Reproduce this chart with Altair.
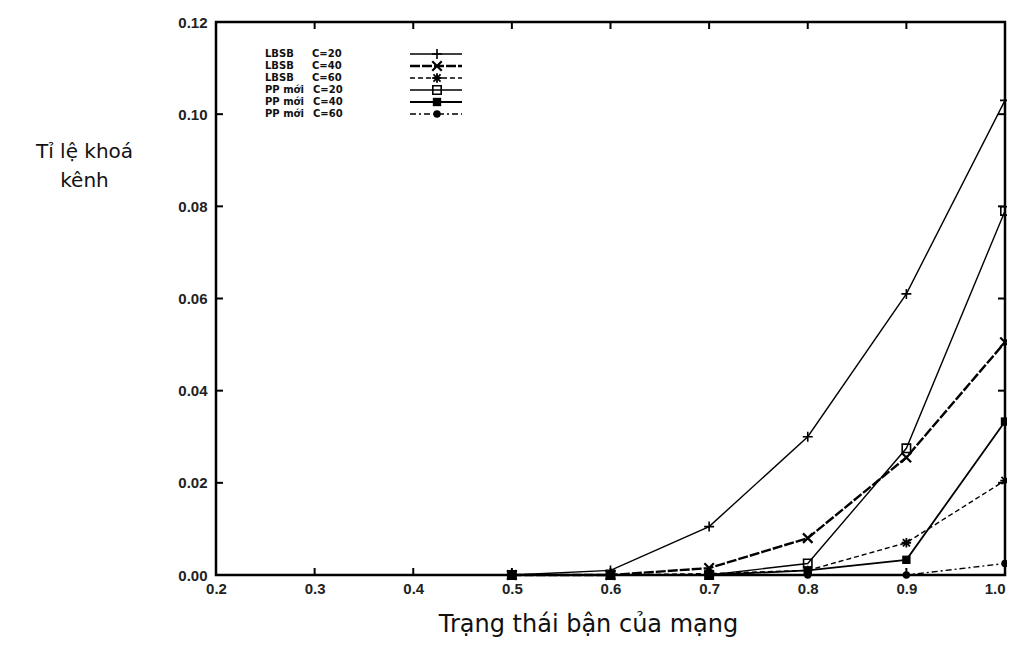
import altair as alt
import pandas as pd

# ---- data ----
x_vals = [0.5, 0.6, 0.7, 0.8, 0.9, 1.0]
lbsb_c20 = [0.0, 0.0010, 0.0105, 0.0300, 0.0610, 0.1030]
lbsb_c40 = [0.0, 0.0, 0.0015, 0.0080, 0.0255, 0.0505]
lbsb_c60 = [0.0, 0.0, 0.0003, 0.0010, 0.0070, 0.0205]
pp_c20 = [0.0, 0.0, 0.0, 0.0025, 0.0275, 0.0790]
pp_c40 = [0.0, 0.0, 0.0, 0.0010, 0.0033, 0.0333]
pp_c60 = [0.0, 0.0, 0.0, 0.0, 0.0, 0.0025]

method_names = ["LBSB", "LBSB", "LBSB", "PP mới", "PP mới", "PP mới"]
c_labels = ["C=20", "C=40", "C=60", "C=20", "C=40", "C=60"]
x_ticks = [0.2, 0.3, 0.4, 0.5, 0.6, 0.7, 0.8, 0.9, 1.0]
y_ticks = [0.0, 0.02, 0.04, 0.06, 0.08, 0.10, 0.12]
x_title = "Trạng thái bận của mạng"
y_title = ["Tỉ lệ khoá", "kênh"]

W, H = 789, 553

PLUS = "M-1,0L1,0M0,-1L0,1"
CROSS = "M-1,-1L1,1M-1,1L1,-1"
STAR = "M-1,0L1,0M0,-1L0,1M-0.75,-0.75L0.75,0.75M-0.75,0.75L0.75,-0.75"

values = [lbsb_c20, lbsb_c40, lbsb_c60, pp_c20, pp_c40, pp_c60]
line_styles = [
    dict(strokeWidth=1.4),
    dict(strokeWidth=2.4, strokeDash=[10, 2]),
    dict(strokeWidth=1.4, strokeDash=[5, 3]),
    dict(strokeWidth=1.4),
    dict(strokeWidth=1.8),
    dict(strokeWidth=1.4, strokeDash=[6, 3, 2, 3]),
]
point_styles = [
    dict(shape=PLUS, filled=False, size=100, strokeWidth=1.6),
    dict(shape=CROSS, filled=False, size=90, strokeWidth=2.2),
    dict(shape=STAR, filled=False, size=90, strokeWidth=1.8),
    dict(shape="square", filled=False, size=70, strokeWidth=1.6),
    dict(shape="square", filled=True, size=70, strokeWidth=1),
    dict(shape="circle", filled=True, size=55, strokeWidth=1),
]

xs = alt.Scale(domain=[0.2, 1.0], nice=False, zero=False)
ys = alt.Scale(domain=[0.0, 0.12], nice=False)
x_axis = alt.Axis(values=x_ticks, format=".1f", tickSize=0, domain=False, grid=False,
                  labelFont="Liberation Sans", labelFontSize=15, labelFontWeight="bold",
                  labelColor="#222", labelPadding=6,
                  labelAlign={"condition": {"test": "datum.value >= 0.99", "value": "right"},
                              "value": "center"},
                  title=x_title, titleFont="DejaVu Sans", titleFontSize=24, titleFontWeight="normal",
                  titleColor="#111", titleX=372, titleY=56, titleAlign="center",
                  titleBaseline="alphabetic", titleAnchor="start")
y_axis = alt.Axis(values=y_ticks, format=".2f", tickSize=0, domain=False, grid=False,
                  labelFont="Liberation Sans", labelFontSize=15, labelFontWeight="bold",
                  labelColor="#222", labelPadding=9,
                  title=y_title, titleFont="DejaVu Sans", titleFontSize=20, titleFontWeight="normal",
                  titleColor="#111", titleAngle=0, titleX=-132, titleY=135,
                  titleAlign="center", titleBaseline="alphabetic", titleLineHeight=29,
                  titleAnchor="start")
X = alt.X("x:Q", scale=xs, axis=x_axis)
Y = alt.Y("y:Q", scale=ys, axis=y_axis)

layers = []
for vals, ls, ps in zip(values, line_styles, point_styles):
    df = pd.DataFrame({"x": x_vals, "y": vals})
    layers.append(alt.Chart(df).mark_line(color="black", **ls).encode(x=X, y=Y))
    layers.append(alt.Chart(df).mark_point(color="black", opacity=1, **ps).encode(x=X, y=Y))

# inward ticks on all four sides
xt = pd.DataFrame({"x": x_ticks[1:-1]})
yt = pd.DataFrame({"y": y_ticks[1:-1]})
layers.append(alt.Chart(xt).mark_rule(color="black", strokeWidth=2).encode(
    x=X, y=alt.value(H), y2=alt.value(H - 7)))
layers.append(alt.Chart(xt).mark_rule(color="black", strokeWidth=2).encode(
    x=X, y=alt.value(0), y2=alt.value(7)))
layers.append(alt.Chart(yt).mark_rule(color="black", strokeWidth=2).encode(
    y=Y, x=alt.value(0), x2=alt.value(7)))
layers.append(alt.Chart(yt).mark_rule(color="black", strokeWidth=2).encode(
    y=Y, x=alt.value(W), x2=alt.value(W - 7)))

# legend inside the plot, label left, sample right
for i, (name, cl, ls, ps) in enumerate(zip(method_names, c_labels, line_styles, point_styles)):
    ry = 32 + 12 * i
    ldf = pd.DataFrame({"name": [name], "c": [cl]})
    layers.append(alt.Chart(ldf).mark_text(align="left", baseline="middle", font="DejaVu Sans",
                                           fontSize=10, fontWeight="bold", color="#111").encode(
        x=alt.value(49), y=alt.value(ry), text="name:N"))
    layers.append(alt.Chart(ldf).mark_text(align="left", baseline="middle", font="DejaVu Sans",
                                           fontSize=10, fontWeight="bold", color="#111").encode(
        x=alt.value(96 if name == "LBSB" else 97), y=alt.value(ry), text="c:N"))
    layers.append(alt.Chart(ldf).mark_rule(color="black", **ls).encode(
        x=alt.value(194), x2=alt.value(246), y=alt.value(ry)))
    layers.append(alt.Chart(ldf).mark_point(color="black", opacity=1, **ps).encode(
        x=alt.value(221), y=alt.value(ry)))

chart = alt.layer(*layers).properties(
    width=W, height=H,
    background="white",
    autosize=alt.AutoSizeParams(type="none"),
    padding={"left": 208, "top": 14, "right": 2, "bottom": 64},
).configure_view(stroke="black", strokeWidth=2.5)

chart.save("out.html", embed_options={"renderer": "svg", "actions": False})
